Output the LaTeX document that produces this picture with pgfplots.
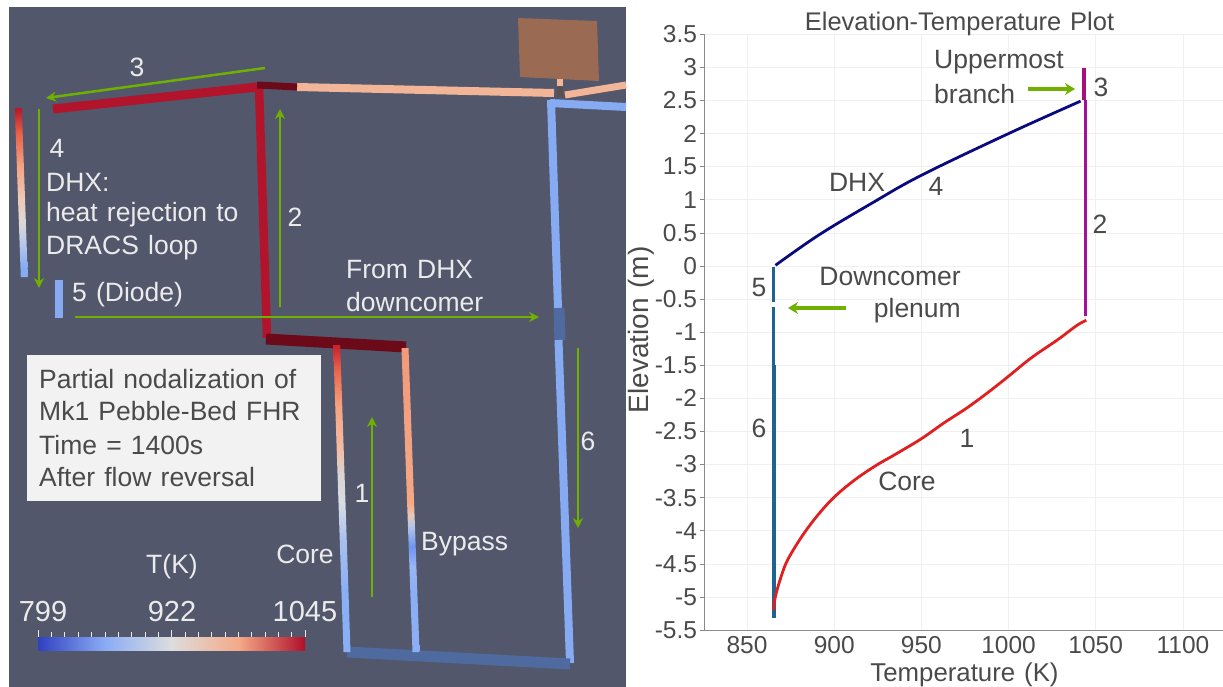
\documentclass[border=0pt]{standalone}
\usepackage{fontspec}
\setmainfont[WordSpace=1.25]{Liberation Sans}
\usepackage{pgfplots}
\pgfplotsset{compat=1.18}
\usetikzlibrary{arrows.meta}
\newcommand\fs[1]{\fontsize{#1}{#1}\selectfont}
\definecolor{panel}{HTML}{52576B}
\definecolor{grn}{HTML}{70B000}
\definecolor{lbl}{HTML}{4A4A4A}
\definecolor{wht}{HTML}{EBEBEB}
\definecolor{ltblue}{HTML}{86ABF2}
\definecolor{midblue}{HTML}{4F6A9E}
\definecolor{crim}{HTML}{B2142C}
\definecolor{dkred}{HTML}{6C0A1A}
\definecolor{salm}{HTML}{F3B597}
\definecolor{teal6}{HTML}{1F6391}
\definecolor{purp}{HTML}{A3109A}
\definecolor{purpd}{HTML}{A5107E}
\definecolor{navy4}{HTML}{0A0A80}
\definecolor{red1}{HTML}{E02020}
\definecolor{axl}{HTML}{8A8A8A}
\definecolor{tank}{HTML}{9B6A52}
\definecolor{joint}{HTML}{5A5050}
% colour-bar stops
\definecolor{b1}{RGB}{48,64,192}\definecolor{b2}{RGB}{138,172,245}\definecolor{b3}{RGB}{221,221,221}\definecolor{b4}{RGB}{244,170,136}\definecolor{b5}{RGB}{176,16,42}
\pgfdeclarehorizontalshading{cwbar}{100bp}{color(0bp)=(b1);color(25bp)=(b1);color(37.5bp)=(b2);color(50bp)=(b3);color(62.5bp)=(b4);color(75bp)=(b5);color(100bp)=(b5)}
% core
\definecolor{k1}{HTML}{C9252E}\definecolor{k2}{HTML}{EE6A50}\definecolor{k3}{HTML}{F4A482}\definecolor{k4}{HTML}{F2BDA5}\definecolor{k5}{HTML}{D8D4D0}\definecolor{k6}{HTML}{D9DDE5}\definecolor{k7}{HTML}{A9C0EE}\definecolor{k8}{HTML}{8AAFF5}
\pgfdeclareverticalshading{coreS}{100bp}{color(0bp)=(k8);color(35.1bp)=(k8);color(43.2bp)=(k7);color(49.3bp)=(k6);color(54.2bp)=(k5);color(57.9bp)=(k4);color(64.9bp)=(k3);color(70.4bp)=(k2);color(74.7bp)=(k1);color(100bp)=(k1)}
% bypass
\definecolor{y1}{HTML}{F39A78}\definecolor{y2}{HTML}{F2A283}\definecolor{y3}{HTML}{F5A884}\definecolor{y4}{HTML}{E8C8B8}\definecolor{y5}{HTML}{B0C4EA}\definecolor{y6}{HTML}{6F95EE}\definecolor{y7}{HTML}{9AB6F2}\definecolor{y8}{HTML}{8BAEF5}
\pgfdeclareverticalshading{bypS}{100bp}{color(0bp)=(y8);color(35.2bp)=(y8);color(39bp)=(y7);color(42.3bp)=(y6);color(45.6bp)=(y5);color(47.5bp)=(y4);color(49.5bp)=(y3);color(59.9bp)=(y2);color(74.7bp)=(y1);color(100bp)=(y1)}
% DHX
\definecolor{d1}{HTML}{B81C2C}\definecolor{d2}{HTML}{E8604A}\definecolor{d3}{HTML}{F4A584}\definecolor{d4}{HTML}{EECAB8}\definecolor{d5}{HTML}{DCD8D8}\definecolor{d6}{HTML}{B8C8EA}\definecolor{d7}{HTML}{86ABF5}
\pgfdeclareverticalshading{dhxS}{100bp}{color(0bp)=(d7);color(28bp)=(d7);color(35bp)=(d6);color(41bp)=(d5);color(47.8bp)=(d4);color(57.5bp)=(d3);color(67.6bp)=(d2);color(74.4bp)=(d1);color(100bp)=(d1)}
\tikzset{garr/.style={draw=grn,line width=2.5pt,-{Stealth[length=10pt,width=10pt]}},
 wt/.style={text=wht,inner sep=0pt,font=\fs{26.5}},
 dt/.style={text=lbl,inner sep=0pt,font=\fs{26.5}}}
\begin{document}
\begin{tikzpicture}[x=1pt,y=1pt]
\path[use as bounding box] (0,0) rectangle (1223,687);
% right plot
\begin{axis}[at={(704.5pt,57pt)},anchor=south west,scale only axis,width=518.5pt,height=595.7pt,
 xmin=825.6,xmax=1123,ymin=-5.5,ymax=3.5,
 axis lines=left,axis line style={-,draw=axl,line width=0.8pt},
 xtick={850,900,950,1000,1050,1100},xticklabels={850,900,950,1000,1050,1100},
 ytick={-5.5,-5,-4.5,-4,-3.5,-3,-2.5,-2,-1.5,-1,-0.5,0,0.5,1,1.5,2,2.5,3,3.5},
 yticklabels={-5.5,-5,-4.5,-4,-3.5,-3,-2.5,-2,-1.5,-1,-0.5,0,0.5,1,1.5,2,2.5,3,3.5},
 tick align=outside,major tick length=5pt,tick style={draw=axl,line width=0.6pt},
 xtick style={draw=none},
 grid=major,grid style={draw=black!6,line width=0.6pt},
 tick label style={text=lbl,font=\fs{24.5}},
 xticklabel style={yshift=2.5pt},yticklabel style={xshift=1pt},
 title={Elevation-Temperature Plot},
 title style={at={(axis description cs:0.4918,1.0223)},anchor=center,inner sep=0pt,text=lbl,font=\fs{25.5},yshift=-9pt},
 xlabel={Temperature (K)},
 xlabel style={at={(axis description cs:0.5014,-0.0705)},anchor=center,inner sep=0pt,text=lbl,font=\fs{25.8},yshift=-3pt},
 ylabel={Elevation (m)},
 ylabel style={at={(axis description cs:-0.1225,0.5036)},anchor=center,inner sep=0pt,text=lbl,font=\fs{28}},
 clip=false]
\addplot[teal6,line width=2.6pt] coordinates {(865.3,-0.02)(865.3,-0.55)};
\addplot[teal6,line width=2.6pt] coordinates {(865.3,-0.62)(865.3,-1.5)};
\addplot[teal6,line width=3.4pt] coordinates {(865.5,-1.5)(865.5,-5.32)};
\addplot[red1,line width=2.8pt,smooth,tension=0.6] coordinates {(865.2,-5.2)(866.3,-4.99)(869.6,-4.69)(873.9,-4.41)(884.8,-3.96)(897.8,-3.55)(910.9,-3.25)(923.9,-3.016)(934.8,-2.85)(950,-2.61)(963,-2.37)(976.1,-2.145)(989.1,-1.893)(1000,-1.666)(1013,-1.389)(1028.3,-1.112)(1039.1,-0.9)(1044.6,-0.82)};
\addplot[purp,line width=2.8pt] coordinates {(1044,-0.76)(1044,2.5)};
\addplot[navy4,line width=2.8pt,smooth,tension=0.6] coordinates {(866.3,0.01)(891.3,0.47)(921.7,0.95)(950,1.37)(1000,2.0)(1041.3,2.49)};
\addplot[purpd,line width=4pt] coordinates {(1043,2.5)(1043,2.99)};
\end{axis}
% pixel layer
\begin{axis}[at={(0pt,0pt)},anchor=south west,scale only axis,width=1223pt,height=687pt,
 xmin=0,xmax=1223,ymin=0,ymax=687,y dir=reverse,hide axis,clip=false]
\addplot[fill=panel,draw=none] coordinates {(9,7)(626,7)(626,687)(9,687)} --cycle;
% brown tank
\addplot[fill=tank,draw=none] coordinates {(518,18)(597,21)(599,81)(520,77)} --cycle;
% horizontal pipes
\addplot[salm,line width=8pt] coordinates {(297,87)(554,93)};
\addplot[salm,line width=7pt] coordinates {(565,95)(626,85)};
\addplot[salm,line width=6pt] coordinates {(560,79)(560,86)};
\addplot[joint,line width=6pt] coordinates {(560,87)(560,97)};
\addplot[ltblue,line width=8pt] coordinates {(550,103)(626,107)};
\addplot[ltblue,line width=8pt] coordinates {(551,100)(558,308)};
\addplot[midblue,line width=11pt] coordinates {(559,308)(560,340)};
\addplot[ltblue,line width=8pt] coordinates {(558.5,340)(570,663)};
\addplot[midblue,line width=11pt] coordinates {(347,652)(570,664)};
% red pipes
\addplot[crim,line width=9pt] coordinates {(53,109)(257,87)};
\addplot[crim,line width=8.5pt] coordinates {(259,86)(267,338)};
\addplot[dkred,line width=7pt] coordinates {(257,85)(297,87)};
\addplot[dkred,line width=11pt] coordinates {(266,339)(406,347)};
% diode
\addplot[ltblue,line width=8pt] coordinates {(59,280)(59,318)};
% gradient pipes
\addplot[shading=dhxS,draw=none] coordinates {(14.8,108)(21.8,108)(27.8,277)(20.8,277)} --cycle;
\addplot[shading=coreS,draw=none] coordinates {(333.2,345)(340.2,345)(350.5,652)(343.5,652)} --cycle;
\addplot[shading=bypS,draw=none] coordinates {(401.5,348)(408.5,348)(419.5,652)(412.5,652)} --cycle;
% colour bar
\addplot[shading=cwbar,draw=none] coordinates {(38,637)(305,637)(305,650)(38,650)} --cycle;
\addplot[wht,line width=0.5pt,unbounded coords=jump] coordinates {(38,630)(38,637)(38,nan)(51.3,632)(51.3,637)(51.3,nan)(64.7,632)(64.7,637)(64.7,nan)(78,632)(78,637)(78,nan)(91.4,632)(91.4,637)(91.4,nan)(104.8,632)(104.8,637)(104.8,nan)(118.1,632)(118.1,637)(118.1,nan)(131.5,632)(131.5,637)(131.5,nan)(144.8,632)(144.8,637)(144.8,nan)(158.2,632)(158.2,637)(158.2,nan)(171.5,630)(171.5,637)(171.5,nan)(184.9,632)(184.9,637)(184.9,nan)(198.2,632)(198.2,637)(198.2,nan)(211.6,632)(211.6,637)(211.6,nan)(224.9,632)(224.9,637)(224.9,nan)(238.3,632)(238.3,637)(238.3,nan)(251.6,632)(251.6,637)(251.6,nan)(265,632)(265,637)(265,nan)(278.3,632)(278.3,637)(278.3,nan)(291.7,632)(291.7,637)(291.7,nan)(305,630)(305,637)};
% info box
\addplot[fill=black!5,draw=none] coordinates {(27,355)(321,355)(321,501)(27,501)} --cycle;
% green arrows
\addplot[garr] coordinates {(265,68)(46,98)};
\addplot[garr] coordinates {(39,109)(39,288)};
\addplot[garr] coordinates {(280,307)(280,109)};
\addplot[garr] coordinates {(75,317)(539,317)};
\addplot[garr] coordinates {(372,597)(372,417)};
\addplot[garr] coordinates {(578,348)(578,528)};
\addplot[garr,line width=3.5pt,-{Stealth[length=10pt,width=12pt]}] coordinates {(1028,89)(1075,89)};
\addplot[garr,line width=3.5pt,-{Stealth[length=10pt,width=12pt]}] coordinates {(846,308)(788,308)};
% left text
\node[wt] at (axis cs:137,67) {3};
\node[wt] at (axis cs:57,148) {4};
\node[wt,anchor=west] at (axis cs:46,182) {DHX:};
\node[wt,anchor=west] at (axis cs:46,215) {heat rejection to};
\node[wt,anchor=west] at (axis cs:46,248) {DRACS loop};
\node[wt] at (axis cs:295,217) {2};
\node[wt,anchor=west] at (axis cs:72,295) {5 (Diode)};
\node[wt,anchor=west] at (axis cs:346,270) {From DHX};
\node[wt,anchor=west] at (axis cs:346,302) {downcomer};
\node[dt,anchor=west] at (axis cs:39,379) {Partial nodalization of};
\node[dt,anchor=west] at (axis cs:39,411) {Mk1 Pebble-Bed FHR};
\node[dt,anchor=west] at (axis cs:39,445) {Time = 1400s};
\node[dt,anchor=west] at (axis cs:39,477) {After flow reversal};
\node[wt] at (axis cs:362,493) {1};
\node[wt] at (axis cs:588,441) {6};
\node[wt] at (axis cs:305,554) {Core};
\node[wt,anchor=west] at (axis cs:421,544) {Bypass};
\node[wt] at (axis cs:172,567) {T(K)};
\node[wt,font=\fs{29}] at (axis cs:43,612) {799};
\node[wt,font=\fs{29}] at (axis cs:172,612) {922};
\node[wt,font=\fs{29}] at (axis cs:305,612) {1045};
% right annotations
\node[dt,anchor=west] at (axis cs:934,62) {Uppermost};
\node[dt,anchor=west] at (axis cs:934,94) {branch};
\node[dt] at (axis cs:1101,87) {3};
\node[dt] at (axis cs:1100,224) {2};
\node[dt] at (axis cs:857,182) {DHX};
\node[dt] at (axis cs:936,186) {4};
\node[dt] at (axis cs:759,288) {5};
\node[dt,anchor=east] at (axis cs:961,277) {Downcomer};
\node[dt,anchor=east] at (axis cs:961,311) {plenum};
\node[dt] at (axis cs:759,428) {6};
\node[dt] at (axis cs:967,438) {1};
\node[dt] at (axis cs:907,481) {Core};
\end{axis}
\end{tikzpicture}
\end{document}
